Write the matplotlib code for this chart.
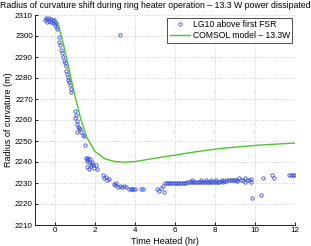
import matplotlib
matplotlib.use("Agg")
import matplotlib.pyplot as plt

plt.rcParams['font.family'] = ['Liberation Sans', 'DejaVu Sans']

title = "Radius of curvature shift during ring heater operation \u2013 13.3 W power dissipated"
xlabel = "Time Heated (hr)"
ylabel = "Radius of curvature (m)"
legend_labels = ["LG10 above first FSR", "COMSOL model \u2013 13.3W"]
xticks = [0, 2, 4, 6, 8, 10, 12]
yticks = [2210, 2220, 2230, 2240, 2250, 2260, 2270, 2280, 2290, 2300, 2310]

# measured points (LG10 above first FSR)
meas_x = [-0.50, -0.45, -0.40, -0.38, -0.32, -0.28, -0.22, -0.18, -0.12, -0.08, -0.05, 0.00, 0.02, 0.06, 0.10, 0.12,
          0.22, 0.20, 0.26, 0.30, 0.33, 0.40, 0.45, 0.50, 0.55, 0.57, 0.60, 0.63, 0.66, 0.70, 0.75, 0.78, 0.82,
          1.00, 1.05, 0.98, 1.08, 1.12, 1.15, 1.20, 1.25, 1.30, 1.38, 1.45, 1.10,
          1.49, 1.55, 1.60, 1.65, 1.70, 1.75, 1.80, 1.85, 1.62, 1.72, 1.82, 1.90, 1.95, 2.05, 2.10, 1.58,
          2.40, 2.45, 2.55, 2.60, 2.70, 2.95, 3.00, 3.05, 3.15, 3.25, 3.35, 3.45, 3.55, 3.70, 3.78, 3.85, 3.92, 4.00,
          4.30, 4.40, 3.27,
          5.10, 5.20, 5.30, 5.45, 5.40,
          5.50, 5.58, 5.66, 5.74, 5.82, 5.90, 5.98, 6.06, 6.14, 6.22, 6.30, 6.38, 6.46, 6.54,
          6.62, 6.70, 6.78, 6.86, 6.94, 7.02, 7.10, 7.18, 7.26, 7.34, 7.42, 7.50, 7.58, 7.66, 7.74, 7.82, 7.90,
          7.98, 8.06, 8.14, 8.22, 8.30, 8.38, 8.46, 8.54,
          6.85, 7.30, 7.55, 7.80, 8.05, 8.35,
          8.62, 8.70, 8.78, 8.86, 8.94, 9.02, 9.10, 9.20, 9.30, 9.40, 9.50, 9.60, 9.70, 9.78,
          9.10, 9.50, 9.80,
          9.87, 10.30, 10.40, 10.85, 10.95, 11.72, 11.80, 11.88, 11.96]
meas_y = [2307.5, 2308.5, 2308.0, 2306.5, 2308.5, 2307.2, 2308.0, 2306.8, 2307.5, 2306.2, 2307.8, 2306.5, 2305.2, 2306.0, 2304.5, 2303.5,
          2299.5, 2297.0, 2295.5, 2293.5, 2292.0, 2290.0, 2288.0, 2287.0, 2285.5, 2283.5, 2282.0, 2280.5, 2279.0, 2278.0, 2276.5, 2275.0, 2273.5,
          2264.5, 2262.5, 2261.0, 2259.5, 2258.0, 2256.5, 2256.0, 2255.5, 2254.5, 2253.0, 2252.5, 2254.5,
          2248.0, 2242.0, 2240.5, 2242.0, 2240.0, 2241.5, 2239.0, 2240.0, 2237.5, 2236.5, 2238.0, 2238.5, 2237.0, 2238.5, 2236.5, 2241.2,
          2234.0, 2232.5, 2233.0, 2231.5, 2231.8, 2229.5, 2229.0, 2230.0, 2228.2, 2228.5, 2228.0, 2228.5, 2228.3, 2227.0, 2227.0, 2227.0, 2227.0, 2227.0,
          2227.0, 2227.0, 2300.5,
          2227.0, 2226.0, 2227.5, 2225.5, 2228.5,
          2230.0, 2229.8, 2229.8, 2229.8, 2229.8, 2229.8, 2229.8, 2229.8, 2229.8, 2229.8, 2229.8, 2229.8, 2229.8, 2230.0,
          2230.5, 2230.5, 2230.4, 2230.5, 2230.6, 2230.5, 2230.5, 2230.4, 2230.6, 2230.5, 2230.5, 2230.6, 2230.5, 2230.4, 2230.6, 2230.5, 2230.6,
          2230.6, 2230.5, 2230.7, 2230.6, 2230.8, 2230.7, 2230.8, 2230.9,
          2231.5, 2231.5, 2231.6, 2231.5, 2231.6, 2231.5,
          2231.2, 2231.3, 2231.2, 2231.4, 2231.3, 2231.5, 2231.4, 2232.2, 2231.3, 2231.5, 2232.3, 2231.6, 2231.4, 2231.8,
          2230.8, 2230.6, 2230.5,
          2222.7, 2224.3, 2232.5, 2233.8, 2232.2, 2233.8, 2233.8, 2233.8, 2233.8]

# COMSOL model curve
model_x = [0.0, 0.1, 0.2, 0.3, 0.4, 0.6, 0.8, 1.0, 1.3, 1.6, 2.0, 2.5, 3.0, 3.5, 4.0, 5.0, 6.0, 7.0, 8.0, 9.0, 10.0, 11.0, 12.0]
model_y = [2307.0, 2306.5, 2304.0, 2300.5, 2297.0, 2288.5, 2280.0, 2271.5, 2260.0, 2251.5, 2245.0, 2241.5, 2240.2, 2239.9, 2240.2,
           2241.8, 2243.3, 2244.8, 2246.1, 2247.1, 2247.9, 2248.5, 2249.0]

fig = plt.figure(figsize=(3.11, 2.46), dpi=100)
ax = fig.add_axes([35/311, 1-225/246, 260/311, 210/246])

ax.plot(meas_x, meas_y, linestyle='none', marker='o', markersize=2.4,
        markerfacecolor='none', markeredgecolor='#3a4fd8', markeredgewidth=0.6,
        label=legend_labels[0])
ax.plot(model_x, model_y, color='#4cc72a', linewidth=1.0, label=legend_labels[1])

ax.set_xlim(-1, 12)
ax.set_ylim(2210, 2310)
ax.set_xticks(xticks)
ax.set_yticks(yticks)
ax.tick_params(direction='in', length=2.5, width=0.6, labelsize=5.8, pad=1.5, colors='black')
ax.grid(True, linestyle=':', color='#c8c8c8', linewidth=0.6)
for s in ['top', 'right']:
    ax.spines[s].set_visible(False)
for s in ['left', 'bottom']:
    ax.spines[s].set_linewidth(0.7)
    ax.spines[s].set_color('#222222')

ax.set_xlabel(xlabel, fontsize=6.5, labelpad=1.8)
ax.set_ylabel(ylabel, fontsize=6.5, labelpad=1.6)
fig.text(0.5, 1 - 5.5/246, title, fontsize=6.3, ha='center', va='center')

leg = ax.legend(loc='upper right', fontsize=6.2, frameon=True, fancybox=False,
                edgecolor='black', borderpad=0.3, handlelength=2.4, handletextpad=0.25,
                labelspacing=0.25, borderaxespad=0.3)
leg.get_frame().set_linewidth(0.6)

fig.savefig("out.png", dpi=100)
